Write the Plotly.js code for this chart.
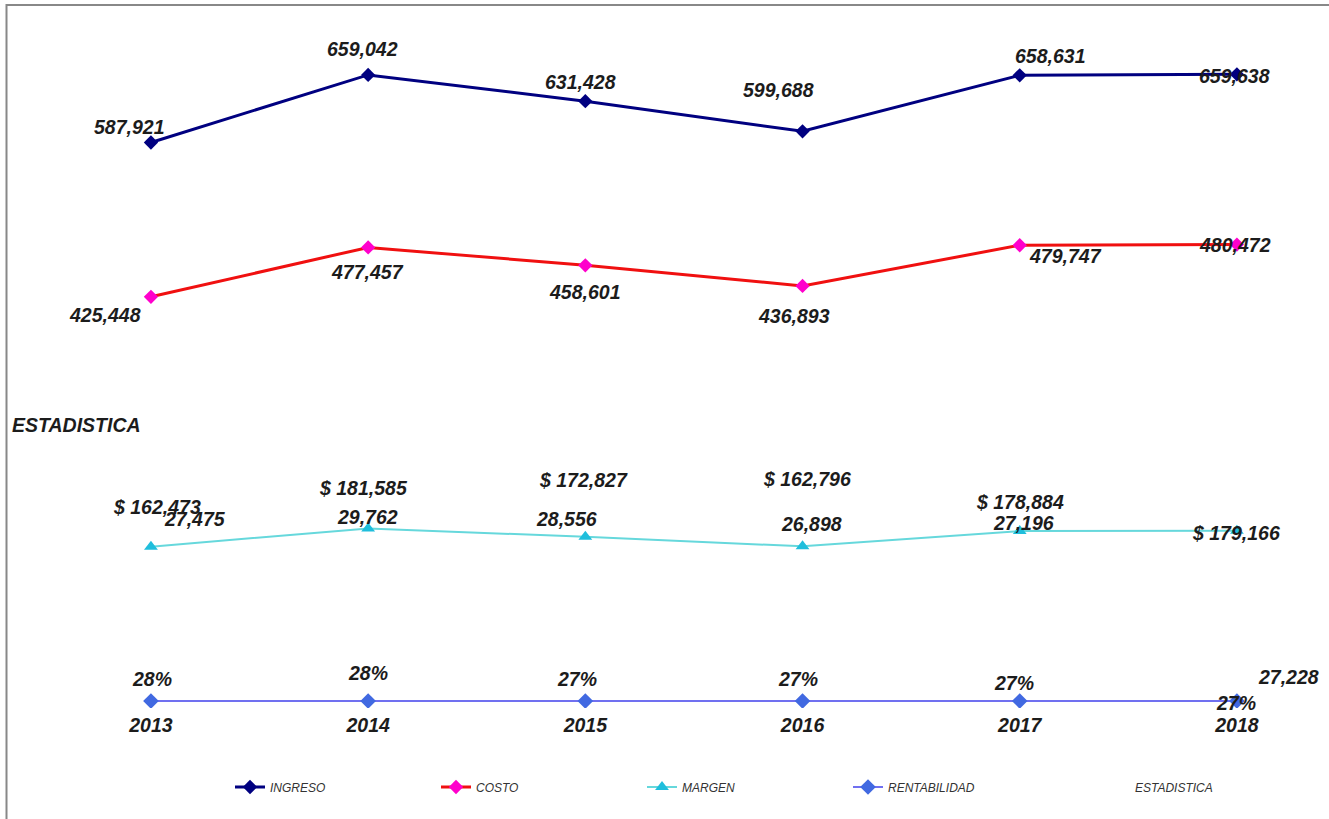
<!DOCTYPE html>
<html><head><meta charset="utf-8">
<script src="https://cdn.plot.ly/plotly-3.0.1.min.js"></script>
<style>html,body{margin:0;padding:0;background:#fff}#chart{width:1329px;height:819px}</style>
</head><body><div id="chart"></div>
<script>
// ---- data ----
const years = ['2013', '2014', '2015', '2016', '2017', '2018'];
const ingreso = [587921, 659042, 631428, 599688, 658631, 659638];
const costo = [425448, 477457, 458601, 436893, 479747, 480472];
const margen = [162473, 181585, 172827, 162796, 178884, 179166];
const rentabilidad = [0.28, 0.28, 0.27, 0.27, 0.27, 0.27];
const estadistica = [27475, 29762, 28556, 26898, 27196, 27228];
const seriesNames = ['INGRESO', 'COSTO', 'MARGEN', 'RENTABILIDAD', 'ESTADISTICA'];

// ---- label offsets in pixels [dx, dy(down)] (style) ----
const offIng = [[-21,-15],[-6,-26],[-5,-19],[-24,-41],[31,-19],[-2,2]];
const offCos = [[-46,18],[-1,25],[0,27],[-9,30],[46,11],[-2,0]];
const offMar = [[6,-40],[-5,-40],[-2,-57],[4,-67],[0,-29],[-1,2]];
const offRen = [[1,-22],[0,-28],[-8,-22],[-5,-22],[-6,-18],[-1,2]];
const offEst = [[44,-156],[-1,-156],[-19,-155],[9,-151],[4,-152],[52,2]];

const FONT = 'Liberation Sans, Arial, sans-serif';
const fmt = v => v.toLocaleString('en-US');
const labelFont = {family: FONT, size: 19.5, color: '#1c1c1c', weight: 'bold', style: 'italic'};

const traces = [
  {x: years, y: ingreso, name: seriesNames[0], mode: 'lines+markers',
   line: {color: '#000080', width: 3}, marker: {symbol: 'diamond', size: 11, color: '#000080'}},
  {x: years, y: costo, name: seriesNames[1], mode: 'lines+markers',
   line: {color: '#F01010', width: 3}, marker: {symbol: 'diamond', size: 11, color: '#FF00CC'}},
  {x: years, y: margen, name: seriesNames[2], mode: 'lines+markers',
   line: {color: '#66D8DC', width: 2}, marker: {symbol: 'triangle-up', size: 12, color: '#1FBEDC'}},
  {x: years, y: rentabilidad, name: seriesNames[3], mode: 'lines+markers',
   line: {color: '#7070F0', width: 2}, marker: {symbol: 'diamond', size: 12, color: '#4169E1'}},
  {x: years, y: estadistica, name: seriesNames[4], mode: 'lines', legend: 'legend2',
   line: {color: 'rgba(0,0,0,0)', width: 0}, hoverinfo: 'skip'}
];

const annotations = [];
function addLabels(vals, offs, textFn) {
  vals.forEach((v, i) => {
    // x given as category index on the category axis
    annotations.push({x: i, y: v, xref: 'x', yref: 'y', text: textFn(v),
      showarrow: false, xanchor: 'center', yanchor: 'middle',
      xshift: offs[i][0], yshift: -offs[i][1], font: labelFont});
  });
}
addLabels(ingreso, offIng, fmt);
addLabels(costo, offCos, fmt);
addLabels(margen, offMar, v => '$ ' + fmt(v));
addLabels(rentabilidad, offRen, v => Math.round(v * 100) + '%');
addLabels(estadistica, offEst, fmt);
annotations.push({xref: 'paper', yref: 'paper', x: 10/1329, y: 1 - 425/708, xanchor: 'left', yanchor: 'middle',
  text: 'ESTADISTICA', showarrow: false, font: labelFont});

const layout = {
  width: 1329, height: 819,
  margin: {l: 0, r: 0, t: 0, b: 111},
  paper_bgcolor: '#ffffff', plot_bgcolor: '#ffffff',
  showlegend: true,
  xaxis: {type: 'category', range: [-0.695, 5.424], showgrid: false, zeroline: false, showline: false,
    ticks: '', ticklabelstandoff: 3, tickfont: labelFont, fixedrange: true},
  yaxis: {range: [-7368, 737895], showgrid: false, zeroline: false, showline: false,
    showticklabels: false, ticks: '', fixedrange: true},
  legend: {orientation: 'h', x: 230/1329, xanchor: 'left', y: 1 - 787/708, yanchor: 'middle',
    entrywidth: 161, font: {family: FONT, size: 12, color: '#333', style: 'italic'}, bgcolor: 'rgba(0,0,0,0)'},
  legend2: {orientation: 'h', x: 1095/1329, xanchor: 'left', y: 1 - 787/708, yanchor: 'middle',
    font: {family: FONT, size: 12, color: '#333', style: 'italic'}, bgcolor: 'rgba(0,0,0,0)'},
  shapes: [
    {type: 'line', xref: 'paper', yref: 'paper', x0: 6.5/1329, x1: 6.5/1329, y0: 1 - 4/708, y1: 1 - 819/708,
     line: {color: '#888888', width: 2}},
    {type: 'line', xref: 'paper', yref: 'paper', x0: 6/1329, x1: 1, y0: 1 - 5/708, y1: 1 - 5/708,
     line: {color: '#888888', width: 2}}
  ],
  annotations: annotations
};

Plotly.newPlot('chart', traces, layout, {displayModeBar: false, staticPlot: true});
</script>
</body></html>
